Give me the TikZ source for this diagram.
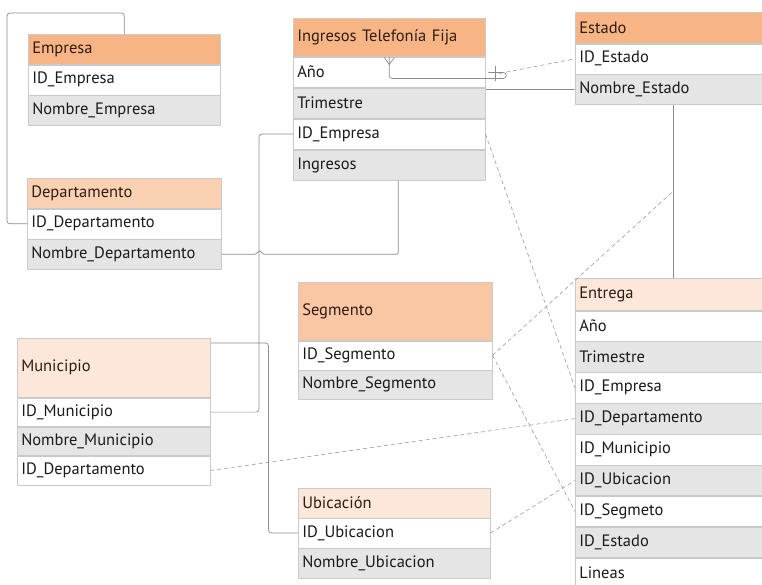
\documentclass[tikz,border=0pt]{standalone}
\usepackage{fontspec}
\setmainfont{PT Sans}
\usetikzlibrary{calc}
\definecolor{hdrA}{HTML}{F7B586}
\definecolor{hdrS}{HTML}{F9C7A3}
\definecolor{hdrB}{HTML}{FBD1B3}
\definecolor{hdrC}{HTML}{FDE7DA}
\definecolor{rowgray}{HTML}{E5E5E5}
\definecolor{cellline}{HTML}{CACACA}
\definecolor{rowtext}{HTML}{1A1A1A}
\definecolor{hdrtext}{HTML}{2E1C12}
\definecolor{solidcol}{HTML}{8C8C8C}
\definecolor{dashcol}{HTML}{9A9A9A}
\begin{document}
\begin{tikzpicture}[x=1pt,y=-1pt,
  font=\fontsize{16.5}{19}\selectfont,
  cell/.style={anchor=north west, inner xsep=4pt, inner ysep=0pt, align=left,
    draw=cellline, line width=0.5pt, text=rowtext},
  hcell/.style={cell, text=hdrtext},
  gcell/.style={cell, fill=rowgray},
  wcell/.style={cell, fill=white},
  conn/.style={draw=solidcol, line width=0.7pt, rounded corners=3pt},
  dconn/.style={draw=dashcol, line width=0.6pt, dash pattern=on 4pt off 3pt},
  emp/.style={text width=184pt, minimum height=#1},
  dep/.style={text width=186pt, minimum height=#1},
  ing/.style={text width=184pt, minimum height=#1},
  est/.style={text width=188pt, minimum height=#1},
  seg/.style={text width=186pt, minimum height=#1},
  mun/.style={text width=185pt, minimum height=#1},
  ubi/.style={text width=184pt, minimum height=#1},
  ent/.style={text width=188pt, minimum height=#1}]
\clip (0,0) rectangle (762,584);
\fill[white] (0,0) rectangle (762,584);

% Empresa
\node[hcell, emp=30pt, fill=hdrA] (emp-h) at (28,34) {Empresa};
\node[wcell, emp=30pt] (emp-1) at (emp-h.south west) {ID\_Empresa};
\node[gcell, emp=29.5pt] (emp-2) at (emp-1.south west) {Nombre\_Empresa};

% Departamento
\node[hcell, dep=30pt, fill=hdrB] (dep-h) at (27,178) {Departamento};
\node[wcell, dep=30pt] (dep-1) at (dep-h.south west) {ID\_Departamento};
\node[gcell, dep=30pt] (dep-2) at (dep-1.south west) {Nombre\_Departamento};

% Ingresos Telefonia Fija
\node[hcell, ing=38pt, fill=hdrA] (ing-h) at (293,18) {Ingresos Telefonía Fija};
\node[wcell, ing=30.5pt] (ing-1) at (ing-h.south west) {Año};
\node[gcell, ing=30.5pt] (ing-2) at (ing-1.south west) {Trimestre};
\node[wcell, ing=30.5pt] (ing-3) at (ing-2.south west) {ID\_Empresa};
\node[gcell, ing=30.5pt] (ing-4) at (ing-3.south west) {Ingresos};

% Estado
\node[hcell, est=31pt, fill=hdrA] (est-h) at (575,12) {Estado};
\node[wcell, est=30pt] (est-1) at (est-h.south west) {ID\_Estado};
\node[gcell, est=30pt] (est-2) at (est-1.south west) {Nombre\_Estado};

% Segmento
\node[hcell, seg=58pt, fill=hdrS] (seg-h) at (298,282) {Segmento};
\node[wcell, seg=29pt] (seg-1) at (seg-h.south west) {ID\_Segmento};
\node[gcell, seg=29pt] (seg-2) at (seg-1.south west) {Nombre\_Segmento};

% Municipio
\node[hcell, mun=59pt, fill=hdrC] (mun-h) at (17,338) {Municipio};
\node[wcell, mun=28.7pt] (mun-1) at (mun-h.south west) {ID\_Municipio};
\node[gcell, mun=28.7pt] (mun-2) at (mun-1.south west) {Nombre\_Municipio};
\node[wcell, mun=28.7pt] (mun-3) at (mun-2.south west) {ID\_Departamento};

% Ubicacion
\node[hcell, ubi=29.5pt, fill=hdrC] (ubi-h) at (298,488) {Ubicación};
\node[wcell, ubi=29.5pt] (ubi-1) at (ubi-h.south west) {ID\_Ubicacion};
\node[gcell, ubi=29.5pt] (ubi-2) at (ubi-1.south west) {Nombre\_Ubicacion};

% Entrega
\node[hcell, ent=32pt, fill=hdrC] (ent-h) at (575,278) {Entrega};
\node[wcell, ent=30.4pt] (ent-1) at (ent-h.south west) {Año};
\node[gcell, ent=30.4pt] (ent-2) at (ent-1.south west) {Trimestre};
\node[wcell, ent=30.4pt] (ent-3) at (ent-2.south west) {ID\_Empresa};
\node[gcell, ent=30.4pt] (ent-4) at (ent-3.south west) {ID\_Departamento};
\node[wcell, ent=30.4pt] (ent-5) at (ent-4.south west) {ID\_Municipio};
\node[gcell, ent=30.4pt] (ent-6) at (ent-5.south west) {ID\_Ubicacion};
\node[wcell, ent=30.4pt] (ent-7) at (ent-6.south west) {ID\_Segmeto};
\node[gcell, ent=30.4pt] (ent-8) at (ent-7.south west) {ID\_Estado};
\node[wcell, ent=30.4pt] (ent-9) at (ent-8.south west) {Lineas};

% solid connectors
\draw[conn] (emp-h.north) |- (7,13) |- (dep-1.west);
\draw[conn] (ing-3.west) -- ++(-34,0) |- (mun-1.east);
\draw[conn, rounded corners=1.5pt] (dep-2.east) -- ++(35,0) -- ++(1,-3) -- ++(4,0) -- ++(1,3)
  -| ([xshift=9pt]ing-4.south);
\draw[conn] ([yshift=-5pt]mun-h.north east) -- ++(58,0) |- (ubi-1.west);
\draw[conn] (est-2.west) -- (est-2.west -| ing-2.east);
\draw[conn] (est-2.south) -- (ent-h.north);
% crow's foot relation
\draw[conn] (ing-h.south) -- ++(0,22) -- ++(117,0) -- ++(0,-6) -- ++(-18,0);
\draw[conn, rounded corners=0pt] ($(ing-h.south)+(-5,1)$) -- ($(ing-h.south)+(0,8)$) -- ($(ing-h.south)+(5,1)$);
\draw[conn, rounded corners=0pt] ($(ing-h.south)+(106,9)$) -- ++(0,15);

% dashed connectors
\draw[dconn] ($(ing-h.south)+(110,17)$) -- (est-1.west);
\draw[dconn] (ing-3.east) -- (ent-3.west);
\draw[dconn] (seg-1.east) -- ($(est-2.south)!0.5!(ent-h.north)$);
\draw[dconn] (seg-1.east) -- (ent-7.west);
\draw[dconn] (mun-3.east) -- (ent-4.west);
\draw[dconn] (ubi-1.east) -- (ent-6.west);
\end{tikzpicture}
\end{document}
